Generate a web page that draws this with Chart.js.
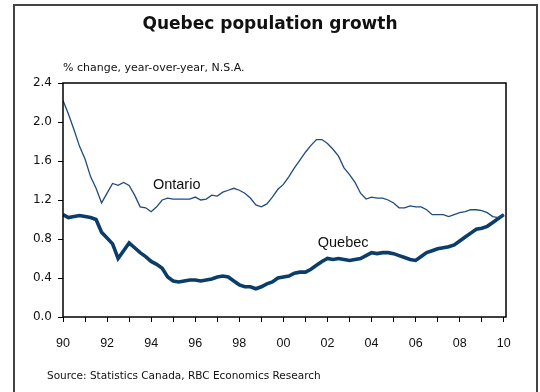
<!DOCTYPE html>
<html>
<head>
<meta charset="utf-8">
<script src="https://cdn.jsdelivr.net/npm/chart.js@4"></script>
<style>
    html, body { margin: 0; padding: 0; background: #fff; }
    #wrap { position: relative; width: 540px; height: 392px; overflow: hidden; }
    #title {
        position: absolute; left: 0; width: 540px; top: 13px; text-align: center;
        font: bold 17px "DejaVu Sans"; color: #111; z-index: 2;
    }
    #sub {
        position: absolute; left: 63px; top: 61px;
        font: 11px "DejaVu Sans"; color: #111; z-index: 2;
    }
    #source {
        position: absolute; left: 47px; top: 369px;
        font: 10.5px "DejaVu Sans"; color: #111; z-index: 2;
    }
    canvas { position: absolute; left: 0; top: 0; z-index: 1; }
</style>
</head>
<body>
<div id="wrap">
    <canvas id="chart" width="540" height="392"></canvas>
    <div id="title">Quebec population growth</div>
    <div id="sub">% change, year-over-year, N.S.A.</div>
    <div id="source">Source: Statistics Canada, RBC Economics Research</div>
</div>

<script>
// quarterly series, 1990Q1 .. 2010Q1
const startYear = 1990;

const ontario = [
    2.22, 2.08, 1.92, 1.75, 1.62, 1.44, 1.32, 1.17, 1.27, 1.37,
    1.35, 1.38, 1.35, 1.25, 1.13, 1.12, 1.08, 1.13, 1.20, 1.22,
    1.21, 1.21, 1.21, 1.21, 1.23, 1.20, 1.21, 1.25, 1.24, 1.28,
    1.30, 1.32, 1.30, 1.27, 1.22, 1.15, 1.13, 1.16, 1.23, 1.31,
    1.36, 1.44, 1.53, 1.61, 1.69, 1.76, 1.82, 1.82, 1.78, 1.72,
    1.65, 1.53, 1.46, 1.38, 1.27, 1.21, 1.23, 1.22, 1.22, 1.20,
    1.17, 1.12, 1.12, 1.14, 1.13, 1.13, 1.10, 1.05, 1.05, 1.05,
    1.03, 1.05, 1.07, 1.08, 1.10, 1.10, 1.09, 1.07, 1.03, 1.02,
    1.05
];

const quebec = [
    1.05, 1.02, 1.03, 1.04, 1.03, 1.02, 1.00, 0.87, 0.81, 0.75,
    0.60, 0.68, 0.76, 0.71, 0.66, 0.62, 0.57, 0.54, 0.50, 0.41,
    0.37, 0.36, 0.37, 0.38, 0.38, 0.37, 0.38, 0.39, 0.41, 0.42,
    0.41, 0.37, 0.33, 0.31, 0.31, 0.29, 0.31, 0.34, 0.36, 0.40,
    0.41, 0.42, 0.45, 0.46, 0.46, 0.49, 0.53, 0.57, 0.60, 0.59,
    0.60, 0.59, 0.58, 0.59, 0.60, 0.63, 0.66, 0.65, 0.66, 0.66,
    0.65, 0.63, 0.61, 0.59, 0.58, 0.62, 0.66, 0.68, 0.70, 0.71,
    0.72, 0.74, 0.78, 0.82, 0.86, 0.90, 0.91, 0.93, 0.97, 1.01,
    1.05
];

const yTicks = [0, 0.4, 0.8, 1.2, 1.6, 2.0, 2.4];

// in-chart series labels, in data coordinates
const seriesLabels = [
    { text: "Ontario", x: 1994.08, y: 1.35 },
    { text: "Quebec", x: 2001.56, y: 0.76 }
];

function toPoints(values) {
    return values.map((v, i) => ({ x: startYear + i / 4, y: v }));
}

// outer panel frame (open at the bottom of the page)
const panelFrame = {
    id: "panelFrame",
    beforeDraw(chart) {
        const ctx = chart.ctx;
        ctx.save();
        ctx.strokeStyle = "#444";
        ctx.lineWidth = 2;
        ctx.beginPath();
        ctx.moveTo(14, 400);
        ctx.lineTo(14, 5);
        ctx.lineTo(537, 5);
        ctx.lineTo(537, 400);
        ctx.stroke();
        ctx.restore();
    }
};

const plotBox = {
    id: "plotBox",
    afterDatasetsDraw(chart) {
        const a = chart.chartArea;
        const ctx = chart.ctx;
        ctx.save();
        ctx.strokeStyle = "#000";
        ctx.lineWidth = 1.5;
        ctx.strokeRect(a.left, a.top, a.right - a.left, a.bottom - a.top);

        ctx.fillStyle = "#111";
        ctx.font = "14.5px 'Liberation Sans'";
        ctx.textAlign = "left";
        ctx.textBaseline = "middle";
        seriesLabels.forEach(l => {
            ctx.fillText(l.text, chart.scales.x.getPixelForValue(l.x), chart.scales.y.getPixelForValue(l.y));
        });
        ctx.restore();
    }
};

new Chart(document.getElementById("chart"), {
    type: "line",
    data: {
        datasets: [
            {
                label: "Ontario",
                data: toPoints(ontario),
                borderColor: "#1f4b7d",
                borderWidth: 1.3,
                pointRadius: 0,
                tension: 0
            },
            {
                label: "Quebec",
                data: toPoints(quebec),
                borderColor: "#0b3d6b",
                borderWidth: 3.6,
                pointRadius: 0,
                tension: 0
            }
        ]
    },
    options: {
        responsive: false,
        animation: false,
        layout: { padding: { left: 0, top: 83, right: 34, bottom: 0 } },
        plugins: {
            legend: { display: false },
            tooltip: { enabled: false }
        },
        scales: {
            x: {
                type: "linear",
                min: 1990,
                max: 2010.1,
                afterFit: s => { s.height = 75; },
                border: { display: false },
                grid: {
                    drawOnChartArea: false,
                    drawTicks: true,
                    tickLength: 5,
                    color: "#000"
                },
                ticks: {
                    stepSize: 1,
                    includeBounds: false,
                    autoSkip: false,
                    maxRotation: 0,
                    padding: 14,
                    color: "#111",
                    font: { family: "Liberation Sans", size: 12.5 },
                    callback: v => (v % 2 === 0 ? String(v % 100).padStart(2, "0") : "")
                }
            },
            y: {
                min: 0,
                max: 2.4,
                afterFit: s => { s.width = 63; },
                afterBuildTicks: s => { s.ticks = yTicks.map(v => ({ value: v })); },
                border: { display: false },
                grid: {
                    drawOnChartArea: false,
                    drawTicks: true,
                    tickLength: 5,
                    color: "#000"
                },
                ticks: {
                    padding: 6,
                    color: "#111",
                    font: { family: "DejaVu Sans", size: 12 },
                    callback: v => v.toFixed(1)
                }
            }
        }
    },
    plugins: [panelFrame, plotBox]
});
</script>
</body>
</html>
